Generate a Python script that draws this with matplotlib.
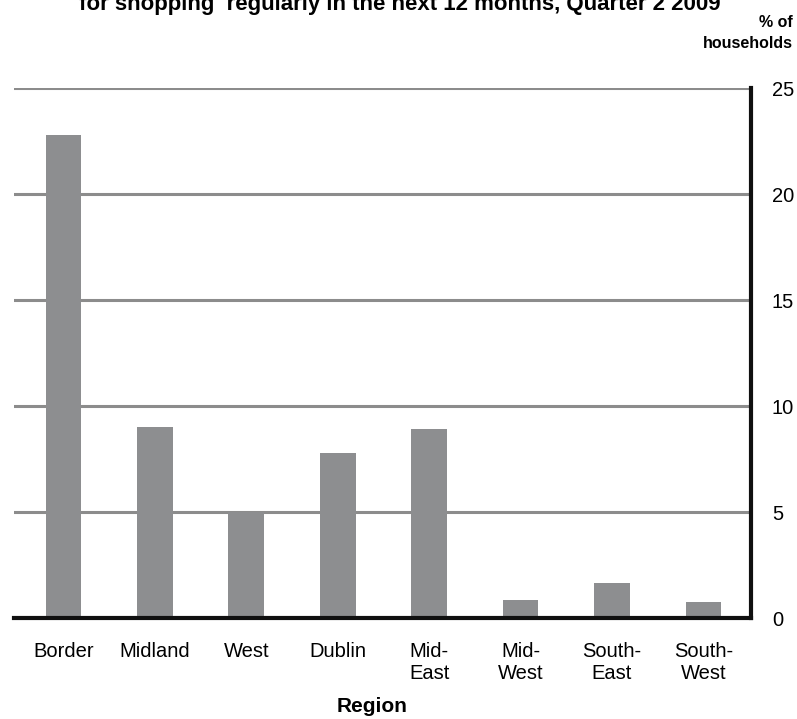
import matplotlib
matplotlib.use("Agg")
import matplotlib.pyplot as plt

categories = ["Border", "Midland", "West", "Dublin", "Mid-\nEast", "Mid-\nWest", "South-\nEast", "South-\nWest"]
values = [22.8, 9.0, 5.0, 7.8, 8.9, 0.85, 1.65, 0.75]
yticks = [0, 5, 10, 15, 20, 25]

plt.rcParams['font.family'] = ['Liberation Sans', 'DejaVu Sans']

fig = plt.figure(figsize=(7.97, 7.19), dpi=100)
ax = fig.add_axes([14/797, 101/719, (751-14)/797, (618-88)/719])

x = list(range(len(categories)))
ax.bar(x, values, width=0.39, color="#8d8e90", zorder=3)

ax.set_xlim(-0.54, 7.52)
ax.set_ylim(0, 25)
ax.set_yticks(yticks)
ax.yaxis.tick_right()
ax.tick_params(axis='y', length=0, pad=15, labelsize=14.5)
ax.set_xticks(x)
ax.set_xticklabels(categories, fontsize=14.5, linespacing=1.2)
ax.tick_params(axis='x', length=0, pad=17)
for y in yticks[1:]:
    ax.axhline(y, color="#8c8c8c", linewidth=2.2, zorder=1)

for s in ['top', 'left']:
    ax.spines[s].set_visible(False)
for s in ['right', 'bottom']:
    ax.spines[s].set_linewidth(3)
    ax.spines[s].set_color('#101010')
    ax.spines[s].set_zorder(4)

fig.text(372/797, 1 - 707/719, "Region", ha='center', va='center', fontsize=15, fontweight='bold')

fig.text(400/797, 1 - 10/719, "for shopping  regularly in the next 12 months, Quarter 2 2009",
         ha='center', va='baseline', fontsize=16, fontweight='bold')
fig.text(793/797, 1 - 27/719, "% of", ha='right', va='baseline', fontsize=11.5,
         fontweight='bold')
fig.text(793/797, 1 - 48/719, "households", ha='right', va='baseline', fontsize=11.5,
         fontweight='bold')

fig.savefig("out.png", dpi=100)
